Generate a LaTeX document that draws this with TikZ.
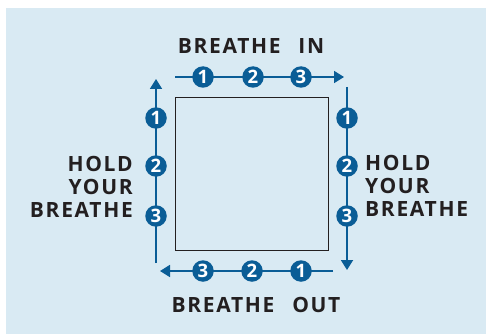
\documentclass[tikz,border=0pt]{standalone}
\usepackage{fontspec}
\setmainfont{Open Sans}
\usetikzlibrary{arrows.meta}
\definecolor{bg}{HTML}{D9EAF3}
\definecolor{bl}{HTML}{0A5D96}
\definecolor{tx}{HTML}{231F20}
\begin{document}
\begin{tikzpicture}[x=1pt,y=-1pt,
  arr/.style={draw=bl, line width=1.8pt, -{Triangle[length=10pt,width=12pt]}},
  num/.style={circle, fill=bl, text=white, minimum size=21.5pt, inner sep=0pt,
    font=\bfseries\fontsize{18.5}{18.5}\selectfont},
  lbl/.style={text=tx, inner sep=0pt,
    font=\bfseries\fontsize{21}{23}\selectfont\addfontfeature{LetterSpace=8}}]
\useasboundingbox (0,0) rectangle (486,334);
\fill[bg] (6,8) rectangle (486,334);
\node[draw=tx, line width=0.8pt, minimum width=153pt, minimum height=152.5pt, inner sep=0pt] (sq) at (251.5,173.75) {};
% top
\coordinate (t0) at (175,77); \coordinate (t1) at (344,77);
\draw[arr] (t0) -- (t1);
\node[num] (ta) at (203,77) {1};
\node[num] (tb) at (253,77) {2};
\node[num] (tc) at (301,77) {3};
% right
\coordinate (r0) at (347,87); \coordinate (r1) at (347,270);
\draw[arr] (r0) -- (r1);
\node[num] (ra) at (347,118) {1};
\node[num] (rb) at (347,166) {2};
\node[num] (rc) at (347,216) {3};
% bottom
\coordinate (b0) at (333,271); \coordinate (b1) at (160,271);
\draw[arr] (b0) -- (b1);
\node[num] (ba) at (301,271) {1};
\node[num] (bb) at (252,271) {2};
\node[num] (bc) at (203,271) {3};
% left
\coordinate (l0) at (156,263); \coordinate (l1) at (156,79);
\draw[arr] (l0) -- (l1);
\node[num] (la) at (156,118) {1};
\node[num] (lb) at (156,166) {2};
\node[num] (lc) at (156,216) {3};
% labels
\node[lbl] (tin) at (251,46) {BREATHE\hspace{0.85em}IN};
\node[lbl] (tout) at (256,305) {BREATHE\hspace{0.85em}OUT};
\node[lbl, align=right, anchor=east] (tl) at (133,187) {HOLD\\YOUR\\BREATHE};
\node[lbl, align=left, anchor=west] (tr) at (365,186) {HOLD\\YOUR\\BREATHE};
\end{tikzpicture}
\end{document}
